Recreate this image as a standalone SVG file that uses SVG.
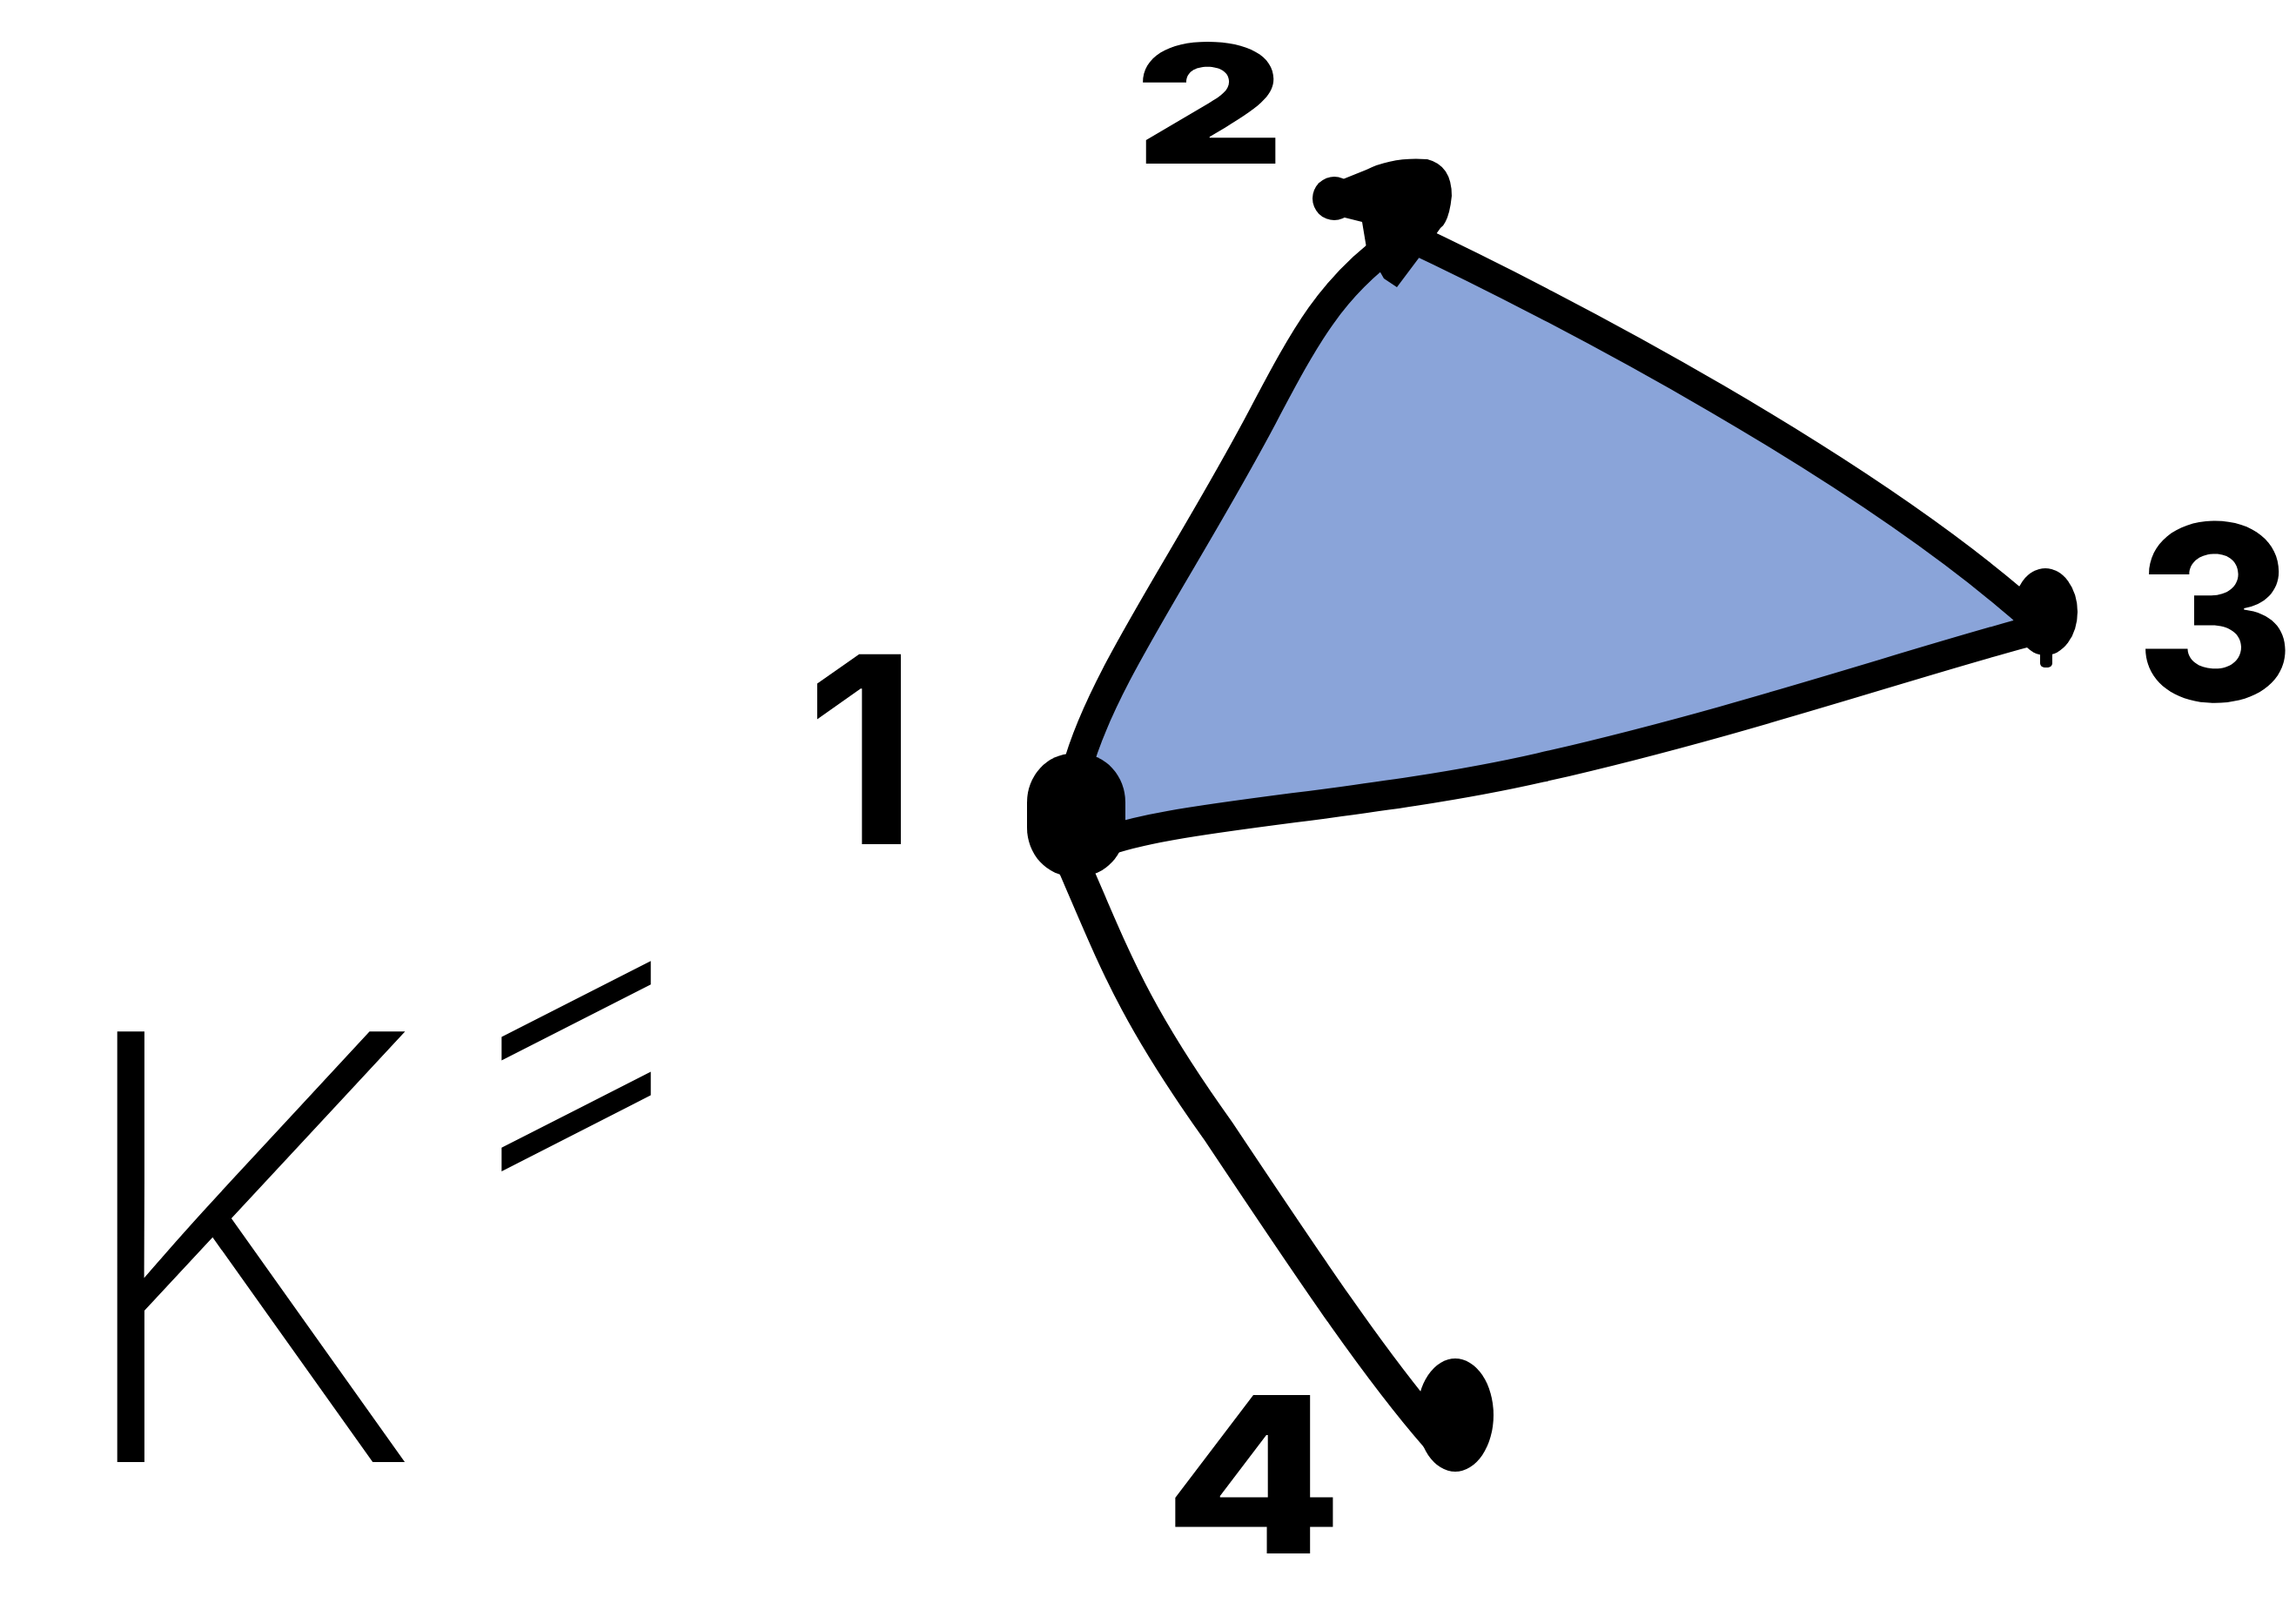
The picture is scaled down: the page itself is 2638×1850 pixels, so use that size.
<svg xmlns="http://www.w3.org/2000/svg" width="2638" height="1850" viewBox="0 0 2638 1850">
<style>
.edge{fill:none;stroke:#000;stroke-width:34;stroke-linecap:round;stroke-linejoin:round}
.blob{fill:#000}
.lbl{font-family:"Inter","Liberation Sans",sans-serif;fill:#000;text-anchor:middle}
</style>
<rect width="2638" height="1850" fill="#fff"/>
<g id="face">
<path d="M1237,885 C1265,780 1360,650 1450,480 C1500,385 1530,330 1600,280 C1780,350 2150,540 2345,718 C2200,760 2000,830 1770,882 C1560,930 1330,935 1250,975 Z" fill="#8AA4D9"/>
</g>
<g id="connectors">
<path class="edge" d="M1237,885 C1265,780 1360,650 1450,480 C1500,385 1530,330 1600,280"/>
<path class="edge" d="M1615,270 C1790,352 2150,540 2345,718"/>
<path class="edge" d="M2345,722 C2200,760 2000,830 1770,882 C1560,930 1330,935 1250,975"/>
<path class="edge" style="stroke-width:38" d="M1232,990 C1280,1100 1300,1160 1400,1300 C1500,1450 1580,1570 1650,1650"/>
</g>
<g id="node1">
<rect class="blob" x="1180" y="866" width="113" height="141" rx="52" ry="56"/>
</g>
<g id="node2">
<circle class="blob" cx="1533" cy="228" r="25"/>
<path class="blob" d="M1520,215 L1570,195 Q1600,180 1640,183 Q1668,190 1668,225 Q1665,255 1655,262 L1635,290 L1605,330 L1590,320 L1570,285 L1565,255 L1525,245 Z"/>
</g>
<g id="node3">
<ellipse class="blob" cx="2350" cy="703" rx="37" ry="50"/>
<rect class="blob" x="2344" y="720" width="14" height="47" rx="5"/>
</g>
<g id="node4">
<ellipse class="blob" cx="1672" cy="1626" rx="44" ry="65"/>
</g>
<g id="labels">
<text class="lbl" x="990" y="970" font-size="300" font-weight="700">1</text>
<text class="lbl" transform="translate(1390,188) scale(1.4,1)" x="0" y="0" font-size="190" font-weight="900">2</text>
<text class="lbl" x="2545" y="805" font-size="280" font-weight="800">3</text>
<text class="lbl" transform="translate(1440,1785) scale(1.2,1)" x="0" y="0" font-size="250" font-weight="800">4</text>
<text class="lbl" x="275" y="1680" font-size="680" font-weight="200">K</text>
<text class="lbl" transform="translate(662,1215) skewY(-27) scale(1,1.4)" x="0" y="138" font-size="460" font-weight="200">=</text>
</g>
</svg>
